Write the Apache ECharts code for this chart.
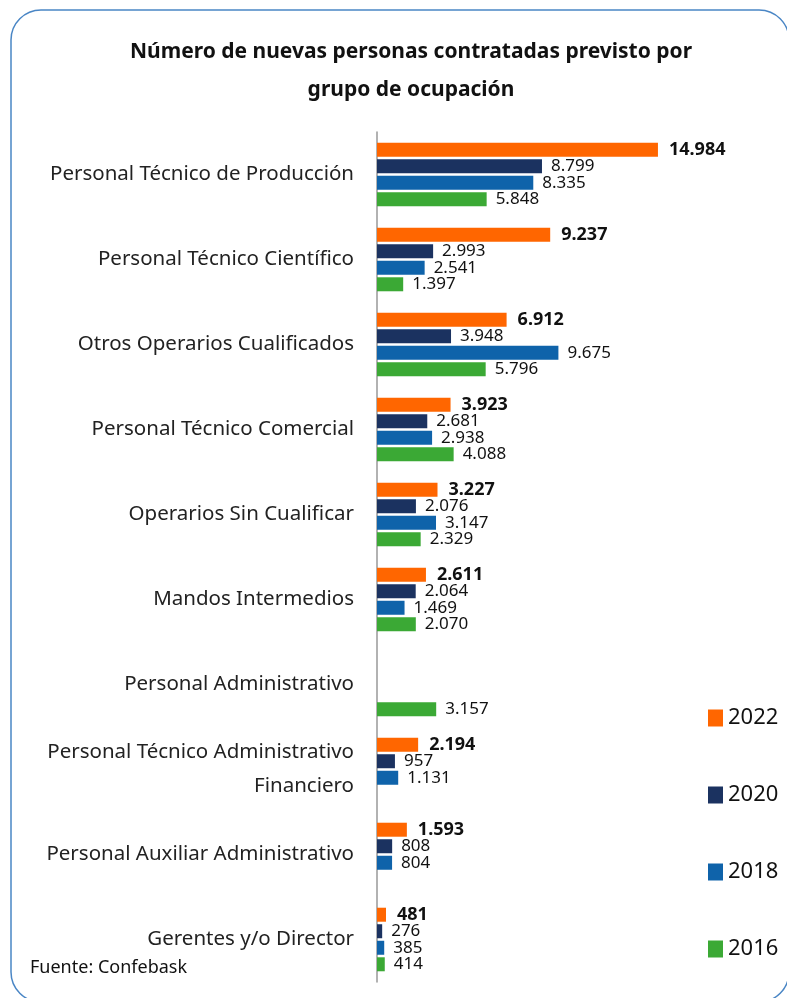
<!DOCTYPE html>
<html>
<head>
<meta charset="utf-8">
<script src="https://cdn.jsdelivr.net/npm/echarts@6/dist/echarts.min.js"></script>
<style>
  html, body { margin: 0; padding: 0; background: #fff; }
  #chart { width: 787px; height: 998px; }
</style>
</head>
<body>
<div id="chart"></div>
<script>
const categories = [
  'Personal Técnico de Producción',
  'Personal Técnico Científico',
  'Otros Operarios Cualificados',
  'Personal Técnico Comercial',
  'Operarios Sin Cualificar',
  'Mandos Intermedios',
  'Personal Administrativo',
  'Personal Técnico Administrativo\nFinanciero',
  'Personal Auxiliar Administrativo',
  'Gerentes y/o Director'
]
const years = ['2022', '2020', '2018', '2016']
const values2022 = [14984, 9237, 6912, 3923, 3227, 2611, null, 2194, 1593, 481]
const values2020 = [8799, 2993, 3948, 2681, 2076, 2064, null, 957, 808, 276]
const values2018 = [8335, 2541, 9675, 2938, 3147, 1469, null, 1131, 804, 385]
const values2016 = [5848, 1397, 5796, 4088, 2329, 2070, 3157, null, null, 414]
const colors = ['#FF6600', '#1B3260', '#0F63AA', '#3BA935']

const font = 'Noto Sans'
const fmt = (v) => String(v).replace(/\B(?=(\d{3})+(?!\d))/g, '.')

const makeSeries = (name, data, color, bold) => ({
  name,
  type: 'bar',
  data,
  barWidth: 14,
  barGap: '18%',
  itemStyle: { color },
  label: {
    show: true,
    position: 'right',
    distance: bold ? 11 : 9,
    fontFamily: font,
    fontSize: bold ? 18 : 17,
    fontWeight: bold ? 'bold' : 'normal',
    color: '#111',
    formatter: (p) => fmt(p.value)
  }
})

const chart = echarts.init(document.getElementById('chart'))
chart.setOption({
  animation: false,
  textStyle: { fontFamily: font },
  title: {
    text: 'Número de nuevas personas contratadas previsto por\ngrupo de ocupación',
    left: 406,
    top: 28,
    textAlign: 'center',
    textStyle: {
      fontFamily: font,
      fontSize: 21,
      fontWeight: 'bold',
      color: '#111',
      lineHeight: 38
    }
  },
  legend: {
    data: years,
    orient: 'vertical',
    left: 703,
    top: 702,
    icon: 'rect',
    itemWidth: 15,
    itemHeight: 17,
    itemGap: 55,
    itemTextGap: 6,
    textStyle: { fontFamily: font, fontSize: 22, color: '#111' }
  },
  grid: {
    left: 377,
    right: 35,
    top: 132,
    bottom: 16
  },
  xAxis: {
    type: 'value',
    min: 0,
    max: 20000,
    show: false
  },
  yAxis: {
    type: 'category',
    data: categories,
    inverse: true,
    axisLine: { show: true, lineStyle: { color: '#999', width: 1.5 } },
    axisTick: { show: false },
    axisLabel: {
      margin: 23,
      fontFamily: font,
      fontSize: 20.5,
      color: '#222',
      lineHeight: 34,
      padding: [4, 0, 0, 0]
    }
  },
  graphic: [
    {
      type: 'rect',
      shape: { x: 11, y: 10, width: 778, height: 992, r: 30 },
      style: { fill: 'none', stroke: '#4A86C5', lineWidth: 1.5 },
      silent: true
    },
    {
      type: 'text',
      left: 30,
      top: 959,
      style: { text: 'Fuente: Confebask', fontFamily: font, fontSize: 18, fill: '#111' }
    }
  ],
  series: [
    makeSeries('2022', values2022, colors[0], true),
    makeSeries('2020', values2020, colors[1], false),
    makeSeries('2018', values2018, colors[2], false),
    makeSeries('2016', values2016, colors[3], false)
  ]
})
</script>
</body>
</html>
